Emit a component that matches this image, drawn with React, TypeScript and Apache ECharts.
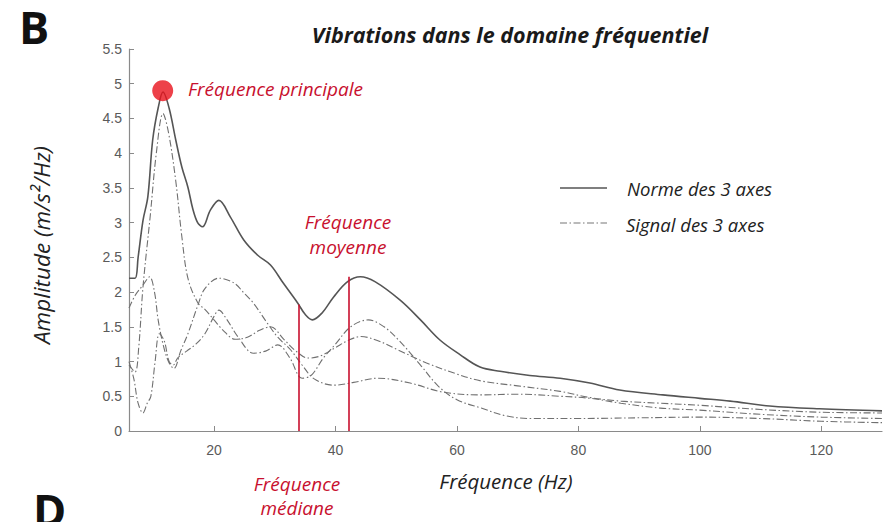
import React, { useEffect, useRef } from "react";
import * as echarts from "echarts";

const xTicks = [20, 40, 60, 80, 100, 120];

const normFreq = [6, 7, 7.5, 8.3, 9.1, 9.9, 10.8, 11.6, 12.6, 13.7, 14.7, 15.7, 16.5, 17.3, 18.1, 19.4, 20.8, 22.7, 24.9, 27.2, 29.3, 31.4, 33.8, 35, 36.2, 37.8, 39.7, 42, 44.1, 46.5, 50.7, 54, 57.2, 60.5, 63.8, 67.1, 72, 77, 81.9, 86.8, 93.9, 100, 105, 111.5, 119.7, 130];
const normValues = [2.2, 2.2, 2.5, 3.03, 3.37, 4.19, 4.65, 4.88, 4.65, 4.19, 3.8, 3.51, 3.2, 3.0, 2.94, 3.18, 3.32, 3.08, 2.75, 2.53, 2.39, 2.13, 1.84, 1.68, 1.6, 1.7, 1.93, 2.15, 2.22, 2.15, 1.88, 1.6, 1.31, 1.1, 0.92, 0.86, 0.8, 0.76, 0.69, 0.59, 0.52, 0.47, 0.43, 0.36, 0.32, 0.29];

const axisAFreq = [6, 7, 7.6, 8.3, 9.5, 10.5, 11.6, 12.5, 13.7, 14.7, 15.7, 17.3, 18.5, 20, 21.5, 23.5, 25.5, 27.5, 29.3, 31.5, 33.5, 35.5, 37.5, 40, 42, 44.2, 47, 50, 55, 60, 64, 70, 77, 82, 87, 93.5, 100, 110, 120, 130];
const axisAValues = [0.95, 0.85, 1.2, 2.07, 3.1, 4.0, 4.57, 4.3, 3.6, 2.8, 2.2, 1.85, 1.75, 1.6, 1.45, 1.32, 1.35, 1.45, 1.5, 1.32, 1.15, 1.05, 1.08, 1.2, 1.3, 1.36, 1.3, 1.18, 0.98, 0.82, 0.72, 0.65, 0.57, 0.48, 0.43, 0.4, 0.37, 0.31, 0.27, 0.26];

const axisBFreq = [6, 7, 8.3, 9.4, 10.2, 10.8, 11.6, 12.5, 13.4, 14.5, 15.7, 17.3, 18.5, 20.8, 23.3, 25, 26.5, 28.8, 30.5, 32.6, 34.5, 36.5, 39.7, 43, 47, 52.3, 57.7, 64, 70, 77, 82, 87, 93.5, 100, 110, 120, 130];
const axisBValues = [1.77, 1.95, 2.1, 2.22, 2.0, 1.6, 1.25, 1.0, 0.9, 1.15, 1.4, 1.8, 2.05, 2.2, 2.13, 1.98, 1.84, 1.55, 1.35, 1.17, 0.95, 0.75, 0.66, 0.7, 0.76, 0.69, 0.56, 0.52, 0.53, 0.5, 0.47, 0.4, 0.33, 0.3, 0.24, 0.2, 0.18];

const axisCFreq = [6, 6.8, 7.5, 8.3, 9, 9.6, 10.3, 11, 11.8, 12.6, 13.3, 14, 15.5, 17, 18.5, 20, 20.8, 22, 24, 26.5, 28.5, 30.5, 32.5, 34.5, 36, 38, 40, 42.5, 45.4, 48, 50.5, 54, 57, 60, 64, 68, 72, 80, 90, 100, 110, 120, 130];
const axisCValues = [1.0, 0.75, 0.4, 0.26, 0.4, 0.5, 1.0, 1.4, 1.3, 1.0, 0.95, 1.05, 1.15, 1.25, 1.4, 1.65, 1.74, 1.62, 1.35, 1.12, 1.15, 1.24, 1.05, 0.76, 0.8, 1.05, 1.25, 1.5, 1.6, 1.5, 1.3, 0.95, 0.64, 0.45, 0.33, 0.22, 0.18, 0.18, 0.19, 0.2, 0.18, 0.14, 0.12];

const medianFreq = 34;
const medianTop = 1.82;
const meanFreq = 42.2;
const meanTop = 2.22;
const mainPeak = [11.55, 4.9];

const pair = (xs: number[], ys: number[]) => xs.map((x, i) => [x, ys[i]]);

const DASHDOT = [7, 2.5, 1.5, 2.5];
const RED = "#c8102e";
const TXT_FONT = "'Open Sans', Lato, sans-serif";
const TICK_FONT = "'Liberation Sans', Arial, sans-serif";

export default function App() {
  const ref = useRef<HTMLDivElement>(null);
  useEffect(() => {
    if (!ref.current) return;
    const chart = echarts.init(ref.current, null, { renderer: "svg" });
    const dashSeries = (data: number[][]) => ({
      type: "line",
      data,
      showSymbol: false,
      symbol: "none",
      smooth: 0.35,
      lineStyle: { color: "#707070", width: 1.1, type: DASHDOT },
      z: 2,
    });
    chart.setOption({
      animation: false,
      backgroundColor: "#ffffff",
      grid: { left: 129, right: 13, top: 49, bottom: 91 },
      xAxis: {
        type: "value",
        min: 6,
        max: 130,
        axisLine: { show: true, lineStyle: { color: "#8a8a8a", width: 1.2 } },
        axisTick: { show: true, inside: true, length: 5, customValues: xTicks, lineStyle: { color: "#8a8a8a" } },
        axisLabel: { customValues: xTicks, color: "#5a5a5a", fontFamily: TICK_FONT, fontSize: 14, margin: 12 },
        splitLine: { show: false },
      },
      yAxis: {
        type: "value",
        min: 0,
        max: 5.5,
        interval: 0.5,
        axisLine: { show: true, lineStyle: { color: "#8a8a8a", width: 1.2 } },
        axisTick: { show: true, inside: true, length: 5, lineStyle: { color: "#8a8a8a" } },
        axisLabel: { color: "#5a5a5a", fontFamily: TICK_FONT, fontSize: 14, margin: 7 },
        splitLine: { show: false },
      },
      series: [
        dashSeries(pair(axisAFreq, axisAValues)),
        dashSeries(pair(axisBFreq, axisBValues)),
        dashSeries(pair(axisCFreq, axisCValues)),
        {
          type: "line",
          data: pair(normFreq, normValues),
          showSymbol: false,
          symbol: "none",
          smooth: 0.35,
          lineStyle: { color: "#555555", width: 1.6 },
          z: 3,
          markLine: {
            silent: true,
            symbol: ["none", "none"],
            label: { show: false },
            lineStyle: { color: RED, width: 1.6, type: "solid" },
            data: [
              [{ coord: [medianFreq, 0] }, { coord: [medianFreq, medianTop] }],
              [{ coord: [meanFreq, 0] }, { coord: [meanFreq, meanTop] }],
            ],
          },
        },
        {
          type: "scatter",
          data: [mainPeak],
          symbolSize: 21,
          itemStyle: { color: "#e8111b" },
          z: 5,
        },
      ],
      graphic: [
        { type: "text", left: 19, top: 4, style: { text: "B", font: "bold 45px 'Open Sans', sans-serif", fill: "#111" } },
        { type: "text", left: 33, top: 487, style: { text: "D", font: "bold 45px 'Open Sans', sans-serif", fill: "#111" } },
        { type: "text", x: 510, y: 34, style: { text: "Vibrations dans le domaine fréquentiel", font: "italic bold 21.5px " + TXT_FONT, fill: "#1a1a1a", align: "center", verticalAlign: "middle" } },
        { type: "text", x: 188, y: 89, style: { text: "Fréquence principale", font: "italic 19px " + TXT_FONT, fill: RED, verticalAlign: "middle" } },
        { type: "text", x: 348, y: 222, style: { text: "Fréquence", font: "italic 19px " + TXT_FONT, fill: RED, align: "center", verticalAlign: "middle" } },
        { type: "text", x: 348, y: 247, style: { text: "moyenne", font: "italic 19px " + TXT_FONT, fill: RED, align: "center", verticalAlign: "middle" } },
        { type: "text", x: 297, y: 484, style: { text: "Fréquence", font: "italic 19px " + TXT_FONT, fill: RED, align: "center", verticalAlign: "middle" } },
        { type: "text", x: 297, y: 508, style: { text: "médiane", font: "italic 19px " + TXT_FONT, fill: RED, align: "center", verticalAlign: "middle" } },
        { type: "text", x: 506, y: 481, style: { text: "Fréquence (Hz)", font: "italic 20.5px " + TXT_FONT, fill: "#222", align: "center", verticalAlign: "middle" } },
        { type: "text", x: 41, y: 245, rotation: Math.PI / 2, style: { text: "Amplitude (m/s²/Hz)", font: "italic 22.5px " + TXT_FONT, fill: "#222", align: "center", verticalAlign: "middle" } },
        { type: "line", shape: { x1: 560, y1: 188, x2: 607, y2: 188 }, style: { stroke: "#555", lineWidth: 1.4 } },
        { type: "line", shape: { x1: 560, y1: 223, x2: 607, y2: 223 }, style: { stroke: "#777", lineWidth: 1.1, lineDash: DASHDOT } },
        { type: "text", x: 627, y: 188, style: { text: "Norme des 3 axes", font: "italic 18.5px " + TXT_FONT, fill: "#222", verticalAlign: "middle" } },
        { type: "text", x: 626, y: 224, style: { text: "Signal des 3 axes", font: "italic 18.5px " + TXT_FONT, fill: "#222", verticalAlign: "middle" } },
      ],
    });
    return () => chart.dispose();
  }, []);
  return (
    <div
      ref={ref}
      style={{ position: "fixed", left: 0, top: 0, width: 895, height: 522, background: "#fff" }}
    />
  );
}
